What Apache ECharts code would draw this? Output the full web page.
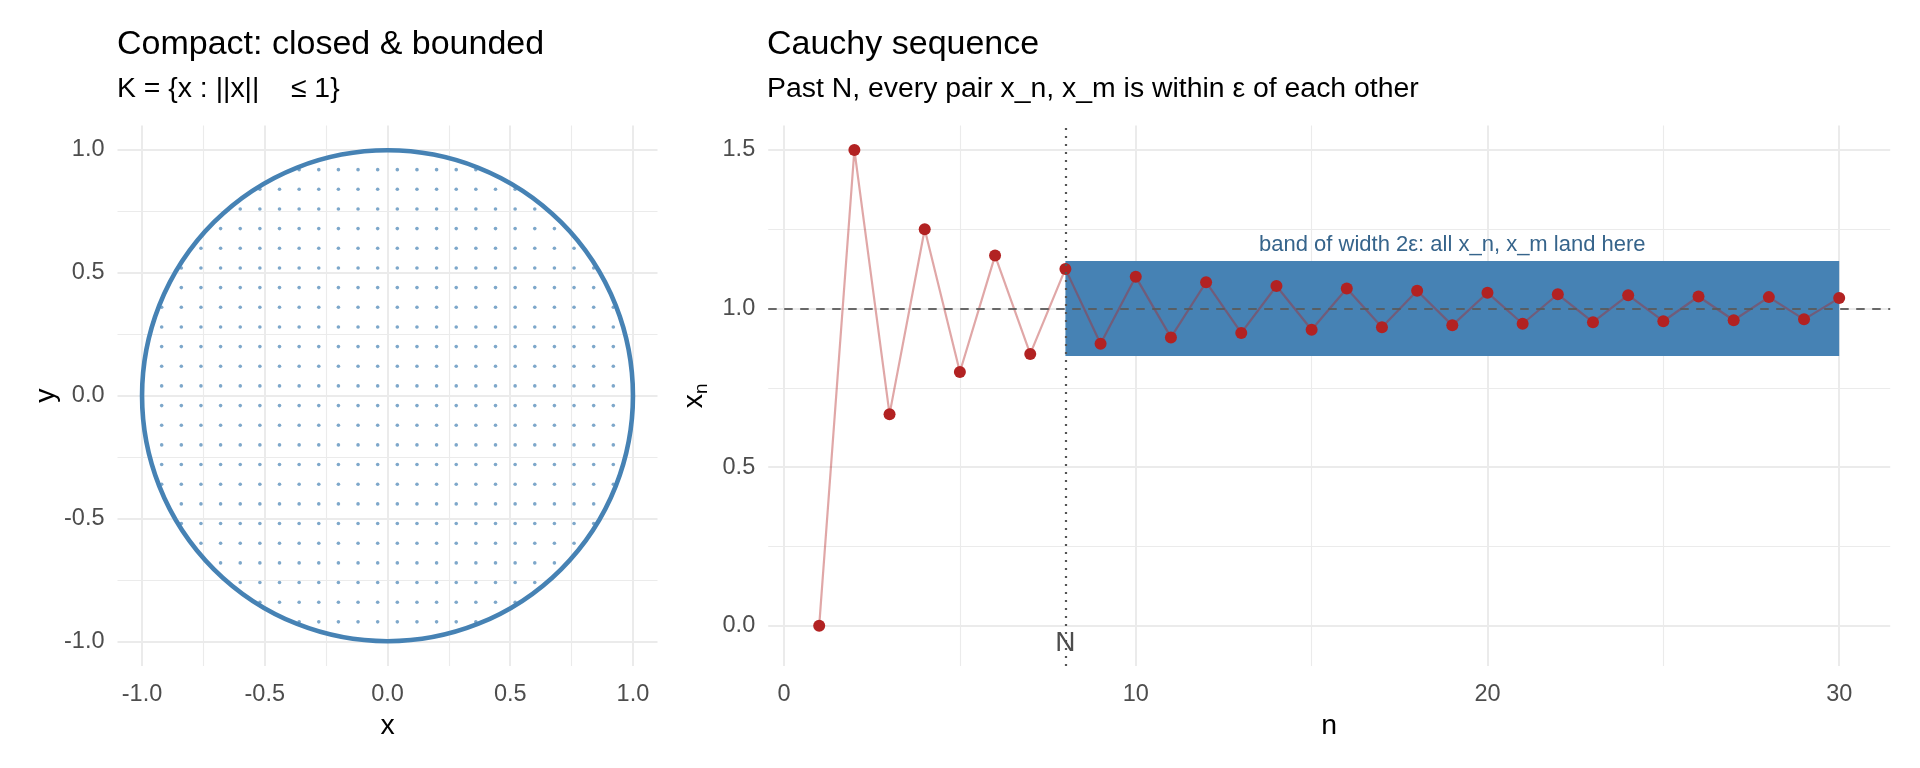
<!DOCTYPE html>
<html>
<head>
<meta charset="utf-8">
<script src="https://cdn.jsdelivr.net/npm/echarts@6/dist/echarts.min.js"></script>
<style>
html,body{margin:0;padding:0;background:#fff;}
#chart{width:1920px;height:768px;}
</style>
</head>
<body>
<div id="chart"></div>
<script>
// ---------- data ----------
// Left panel: unit disk
const diskGridValues = [-1, -0.92, -0.84, -0.76, -0.68, -0.6, -0.52, -0.44, -0.36, -0.28, -0.2, -0.12, -0.04,
                        0.04, 0.12, 0.2, 0.28, 0.36, 0.44, 0.52, 0.6, 0.68, 0.76, 0.84, 0.92, 1];
const circleCenterX = [0];
const circleCenterY = [0];
const circleRadius = [1];
const leftMajorTicks = [-1, -0.5, 0, 0.5, 1];
const leftMinorTicks = [-0.75, -0.25, 0.25, 0.75];

// Right panel: Cauchy sequence
const seqN = [1,2,3,4,5,6,7,8,9,10,11,12,13,14,15,16,17,18,19,20,21,22,23,24,25,26,27,28,29,30];
const seqX = [0, 1.5, 0.667, 1.25, 0.8, 1.167, 0.857, 1.125, 0.889, 1.1,
              0.909, 1.083, 0.923, 1.071, 0.933, 1.063, 0.941, 1.056, 0.947, 1.05,
              0.952, 1.045, 0.957, 1.042, 0.96, 1.038, 0.963, 1.036, 0.966, 1.033];
const limitValue = [1];
const startN = [8];
const bandX = [8, 30];
const bandY = [0.85, 1.15];
const rightXMajorTicks = [0, 10, 20, 30];
const rightXMinorTicks = [5, 15, 25];
const rightYMajorTicks = [0, 0.5, 1, 1.5];
const rightYMinorTicks = [0.25, 0.75, 1.25];
const annotationX = [19, 8];
const annotationY = [1.2, -0.055];
const annotationText = ['band of width 2\u03b5: all x_n, x_m land here', 'N'];

// ---------- derived ----------
const diskPoints = [];
diskGridValues.forEach(function (gx) {
  diskGridValues.forEach(function (gy) {
    if (gx * gx + gy * gy <= 1) diskPoints.push([gx, gy]);
  });
});
const circleData = circleCenterX.map(function (cx, i) { return [cx, circleCenterY[i], circleRadius[i]]; });
const seqData = seqN.map(function (n, i) { return [n, seqX[i]]; });
const bandData = [[bandX[0], bandY[0], bandX[1], bandY[1]]];
const annotationData = annotationX.map(function (x, i) { return [x, annotationY[i], i]; });

// ---------- styles ----------
const FONT = "'Liberation Sans', Arial, Helvetica, sans-serif";
const GRID_COL = '#EBEBEB';
const TICK_COL = '#4D4D4D';
const TICK_SIZE = 23.5;
const annotationStyles = [
  {fontSize: 22, fill: '#36648B'},
  {fontSize: 28, fill: '#4D4D4D'}
];

function majorX(gridIndex, min, max, ticks, fmt, name, nameGap) {
  return {
    type: 'value', gridIndex: gridIndex, min: min, max: max, position: 'bottom',
    axisLine: {show: false},
    axisTick: {show: false, customValues: ticks},
    axisLabel: {customValues: ticks, formatter: fmt, color: TICK_COL, fontSize: TICK_SIZE, fontFamily: FONT,
                margin: 28.5, verticalAlign: 'middle'},
    splitLine: {show: true, lineStyle: {color: GRID_COL, width: 2}},
    name: name, nameLocation: 'middle', nameGap: nameGap,
    nameTextStyle: {color: '#000', fontSize: 28.4, fontFamily: FONT, verticalAlign: 'middle'}
  };
}
function minorX(gridIndex, min, max, ticks) {
  return {
    type: 'value', gridIndex: gridIndex, min: min, max: max, position: 'top',
    axisLine: {show: false},
    axisTick: {show: false, customValues: ticks},
    axisLabel: {show: false, customValues: ticks},
    splitLine: {show: true, lineStyle: {color: GRID_COL, width: 1.1}}
  };
}
function majorY(gridIndex, min, max, ticks, fmt, name, nameGap, rich) {
  const o = {
    type: 'value', gridIndex: gridIndex, min: min, max: max, position: 'left',
    axisLine: {show: false},
    axisTick: {show: false, customValues: ticks},
    axisLabel: {customValues: ticks, formatter: fmt, color: TICK_COL, fontSize: TICK_SIZE, fontFamily: FONT,
                margin: 13},
    splitLine: {show: true, lineStyle: {color: GRID_COL, width: 2}},
    name: name, nameLocation: 'middle', nameGap: nameGap, nameRotate: 90,
    nameTextStyle: {color: '#000', fontSize: 28.4, fontFamily: FONT, verticalAlign: 'middle'}
  };
  if (rich) o.nameTextStyle.rich = rich;
  return o;
}
function minorY(gridIndex, min, max, ticks) {
  return {
    type: 'value', gridIndex: gridIndex, min: min, max: max, position: 'right',
    axisLine: {show: false},
    axisTick: {show: false, customValues: ticks},
    axisLabel: {show: false, customValues: ticks},
    splitLine: {show: true, lineStyle: {color: GRID_COL, width: 1.1}}
  };
}
const fmt1 = function (v) { return (Math.abs(v) < 1e-9 ? 0 : v).toFixed(1); };
const fmt0 = function (v) { return String(Math.round(v)); };

const chart = echarts.init(document.getElementById('chart'), null, {renderer: 'canvas'});
const option = {
  backgroundColor: '#fff',
  animation: false,
  textStyle: {fontFamily: FONT},
  title: [
    {text: 'Compact: closed & bounded', left: 117, top: 27.9, padding: 0,
     textStyle: {fontSize: 34, lineHeight: 34, fontWeight: 'normal', color: '#000', fontFamily: FONT}},
    {text: 'K = {x : ||x||    \u2264 1}', left: 117, top: 75.3, padding: 0,
     textStyle: {fontSize: 28.4, lineHeight: 28.4, fontWeight: 'normal', color: '#000', fontFamily: FONT}},
    {text: 'Cauchy sequence', left: 767, top: 27.9, padding: 0,
     textStyle: {fontSize: 34, lineHeight: 34, fontWeight: 'normal', color: '#000', fontFamily: FONT}},
    {text: 'Past N, every pair x_n, x_m is within \u03b5 of each other', left: 767, top: 75.3, padding: 0,
     textStyle: {fontSize: 28.4, lineHeight: 28.4, fontWeight: 'normal', color: '#000', fontFamily: FONT}}
  ],
  grid: [
    {left: 117.5, top: 125.4, width: 540, height: 540.7, containLabel: false},
    {left: 768.2, top: 125.4, width: 1122, height: 540.7, containLabel: false}
  ],
  xAxis: [
    majorX(0, -1.1, 1.1, leftMajorTicks, fmt1, 'x', 60.5),
    minorX(0, -1.1, 1.1, leftMinorTicks),
    majorX(1, -0.45, 31.45, rightXMajorTicks, fmt0, 'n', 60.5),
    minorX(1, -0.45, 31.45, rightXMinorTicks)
  ],
  yAxis: [
    majorY(0, -1.1, 1.1, leftMajorTicks, fmt1, 'y', 70),
    minorY(0, -1.1, 1.1, leftMinorTicks),
    majorY(1, -0.1275, 1.5775, rightYMajorTicks, fmt1, '{x|x}{n|n}', 69.5, {
      x: {fontSize: 28.4, fontFamily: FONT, color: '#000', lineHeight: 34, verticalAlign: 'middle'},
      n: {fontSize: 19, fontFamily: FONT, color: '#000', lineHeight: 19, verticalAlign: 'bottom'}
    }),
    minorY(1, -0.1275, 1.5775, rightYMinorTicks)
  ],
  series: [
    {
      type: 'scatter', name: 'disk', xAxisIndex: 0, yAxisIndex: 0, data: diskPoints,
      symbol: 'circle', symbolSize: 3.6, silent: true, z: 2,
      itemStyle: {color: '#4682B4', opacity: 0.7}
    },
    {
      type: 'custom', name: 'circle', xAxisIndex: 0, yAxisIndex: 0, data: circleData, silent: true, z: 3,
      encode: {x: 0, y: 1},
      renderItem: function (params, api) {
        const c = api.coord([api.value(0), api.value(1)]);
        const r = api.size([api.value(2), api.value(2)]);
        return {type: 'circle', shape: {cx: c[0], cy: c[1], r: r[0]},
                style: {fill: 'none', stroke: '#4682B4', lineWidth: 4.6}};
      }
    },
    {
      type: 'custom', name: 'band', xAxisIndex: 2, yAxisIndex: 2, data: bandData, silent: true, z: 1,
      encode: {x: [0, 2], y: [1, 3]},
      renderItem: function (params, api) {
        const p1 = api.coord([api.value(0), api.value(3)]);
        const p2 = api.coord([api.value(2), api.value(1)]);
        return {type: 'rect', shape: {x: p1[0], y: p1[1], width: p2[0] - p1[0], height: p2[1] - p1[1]},
                style: {fill: '#4682B4'}};
      }
    },
    {
      type: 'line', name: 'sequence', xAxisIndex: 2, yAxisIndex: 2, data: seqData, z: 2,
      showSymbol: false, symbol: 'none', silent: true,
      lineStyle: {color: '#B22222', opacity: 0.4, width: 2.2},
      markLine: {
        silent: true, symbol: ['none', 'none'], label: {show: false},
        data: [
          {yAxis: limitValue[0], lineStyle: {color: '#5a5a5a', width: 2, type: [8.5, 7.5], opacity: 0.9}},
          {xAxis: startN[0], lineStyle: {color: '#555', width: 2.2, type: [2.2, 5.8]}}
        ]
      }
    },
    {
      type: 'scatter', name: 'points', xAxisIndex: 2, yAxisIndex: 2, data: seqData, z: 4,
      symbol: 'circle', symbolSize: 12, silent: true,
      itemStyle: {color: '#B22222', opacity: 1}
    },
    {
      type: 'custom', name: 'annotations', xAxisIndex: 2, yAxisIndex: 2, data: annotationData, silent: true, z: 5,
      encode: {x: 0, y: 1},
      renderItem: function (params, api) {
        const p = api.coord([api.value(0), api.value(1)]);
        const idx = api.value(2);
        const st = annotationStyles[idx];
        return {type: 'text', x: p[0], y: p[1],
                style: {text: annotationText[idx], fill: st.fill, fontSize: st.fontSize, fontFamily: FONT,
                        align: 'center', verticalAlign: 'middle'}};
      }
    }
  ]
};
chart.setOption(option);
</script>
</body>
</html>
